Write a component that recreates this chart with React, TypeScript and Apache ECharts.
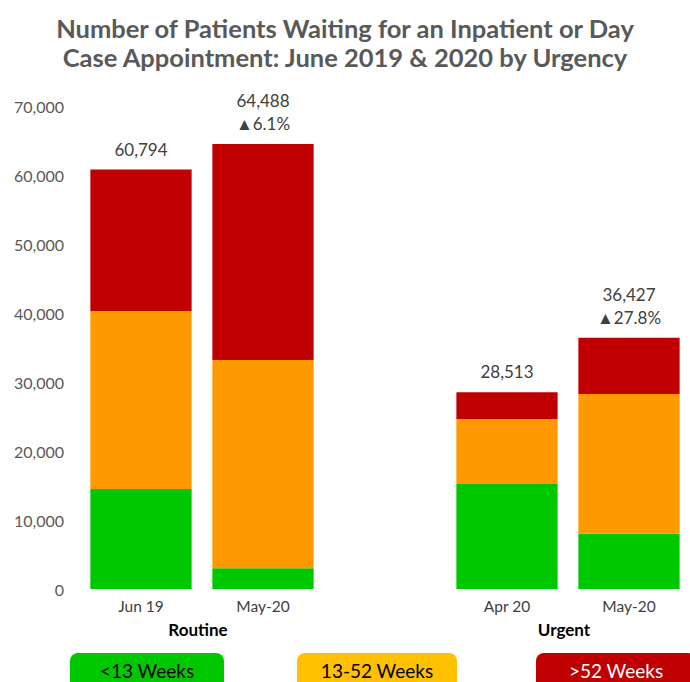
import React, { useEffect, useRef } from "react";
import * as echarts from "echarts";

const categories = ["Jun 19", "May-20", "", "Apr 20", "May-20"];
const under13 = [14500, 3000, null, 15200, 8000];
const weeks13to52 = [25800, 30200, null, 9450, 20260];
const over52 = [20494, 31288, null, 3863, 8167];
const totals = [60794, 64488, null, 28513, 36427];
const changes = ["", "▲6.1%", "", "", "▲27.8%"];
const groups = [
  { name: "Routine", from: 0, to: 1 },
  { name: "Urgent", from: 3, to: 4 },
];
const legendItems = [
  { name: "<13 Weeks", fill: "#00C800", text: "#000000" },
  { name: "13-52 Weeks", fill: "#FFC000", text: "#000000" },
  { name: ">52 Weeks", fill: "#C00000", text: "#FFFFFF" },
];

const FONT = "Lato, 'Open Sans', sans-serif";

export default function App() {
  const ref = useRef<HTMLDivElement>(null);
  useEffect(() => {
    if (!ref.current) return;
    const chart = echarts.init(ref.current, null, { renderer: "svg" });
    const fmt = (v: number) => v.toLocaleString("en-US");
    chart.setOption({
      animation: false,
      backgroundColor: "#ffffff",
      title: {
        text: "Number of Patients Waiting for an Inpatient or Day\nCase Appointment: June 2019 & 2020 by Urgency",
        left: "center",
        top: 8,
        textStyle: {
          fontFamily: FONT,
          fontWeight: "bold",
          fontSize: 25.5,
          lineHeight: 29,
          color: "#595959",
        },
      },
      grid: { left: 80, right: 0, top: 106, bottom: 93 },
      xAxis: {
        type: "category",
        data: categories,
        axisLine: { show: false },
        axisTick: { show: false },
        axisLabel: { color: "#404040", fontSize: 15.5, fontFamily: FONT, margin: 9 },
      },
      yAxis: {
        type: "value",
        min: 0,
        max: 70000,
        interval: 10000,
        splitLine: { show: false },
        axisLine: { show: false },
        axisTick: { show: false },
        axisLabel: {
          color: "#595959",
          fontSize: 16,
          fontFamily: FONT,
          margin: 16,
          formatter: (v: number) => fmt(v),
        },
      },
      series: [
        {
          name: "<13 Weeks",
          type: "bar",
          stack: "t",
          data: under13,
          barCategoryGap: "17%",
          itemStyle: { color: "#00C800" },
        },
        {
          name: "13-52 Weeks",
          type: "bar",
          stack: "t",
          data: weeks13to52,
          itemStyle: { color: "#FF9900" },
        },
        {
          name: ">52 Weeks",
          type: "bar",
          stack: "t",
          data: over52,
          itemStyle: { color: "#C00000" },
          label: {
            show: true,
            position: "top",
            distance: 9,
            fontFamily: FONT,
            fontSize: 17,
            lineHeight: 23,
            color: "#404040",
            formatter: (p: any) => {
              const t = totals[p.dataIndex];
              if (t == null) return "";
              const c = changes[p.dataIndex];
              return c ? `${fmt(t)}\n${c}` : fmt(t);
            },
          },
        },
      ],
    });

    const graphics: any[] = [];
    groups.forEach((g) => {
      const x1 = chart.convertToPixel({ xAxisIndex: 0 }, g.from) as number;
      const x2 = chart.convertToPixel({ xAxisIndex: 0 }, g.to) as number;
      graphics.push({
        type: "text",
        x: (x1 + x2) / 2 - 4,
        y: 629,
        style: {
          text: g.name,
          align: "center",
          verticalAlign: "middle",
          fontFamily: FONT,
          fontWeight: "bold",
          fontSize: 17,
          fill: "#000000",
        },
      });
    });
    const boxes = [
      { x: 70, w: 154 },
      { x: 297, w: 160 },
      { x: 536, w: 160 },
    ];
    legendItems.forEach((li, i) => {
      const b = boxes[i];
      graphics.push({
        type: "rect",
        shape: { x: b.x, y: 653, width: b.w, height: 40, r: 8 },
        style: { fill: li.fill },
      });
      graphics.push({
        type: "text",
        x: b.x + b.w / 2,
        y: 670,
        style: {
          text: li.name,
          align: "center",
          verticalAlign: "middle",
          fontFamily: FONT,
          fontSize: 19,
          fill: li.text,
        },
      });
    });
    chart.setOption({ graphic: graphics });
    return () => chart.dispose();
  }, []);
  return (
    <div
      ref={ref}
      style={{ position: "fixed", left: 0, top: 0, width: 690, height: 682 }}
    />
  );
}
